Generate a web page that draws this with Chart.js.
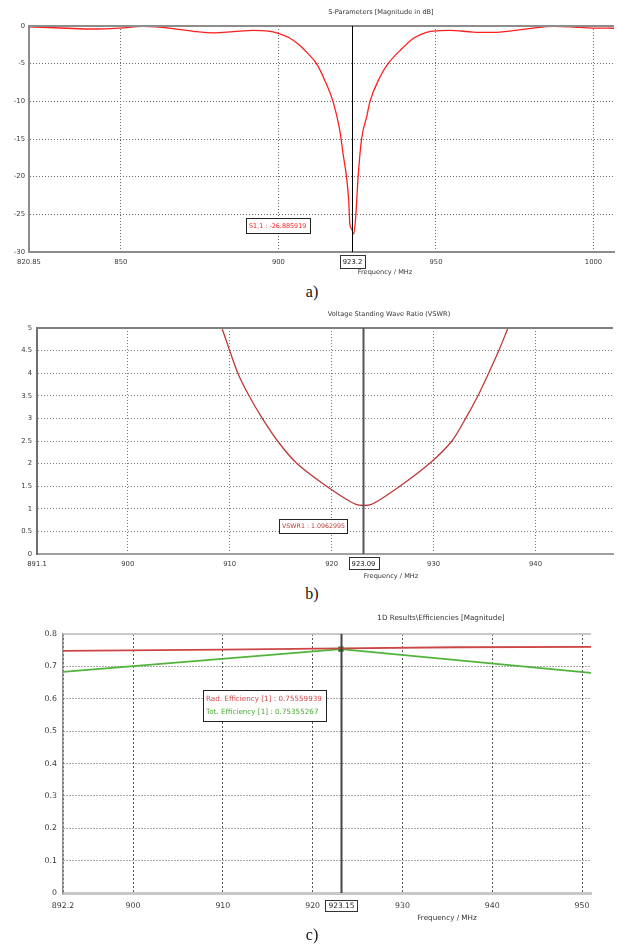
<!DOCTYPE html>
<html>
<head>
<meta charset="utf-8">
<script src="https://cdn.jsdelivr.net/npm/chart.js@4.4.0/dist/chart.umd.min.js"></script>
<style>
    body { margin: 0; background: #fff; width: 617px; height: 946px; position: relative; overflow: hidden; }
    canvas { position: absolute; left: 0; }
    .caption { position: absolute; width: 40px; text-align: center; font-family: "Liberation Serif", serif; font-size: 16px; color: #111; }
</style>
</head>
<body>
<canvas id="s11Chart" width="617" height="280" style="top:0px"></canvas>
<div class="caption" style="left:292px; top:283px">a)</div>
<canvas id="vswrChart" width="617" height="282" style="top:300px"></canvas>
<div class="caption" style="left:292px; top:585px">b)</div>
<canvas id="effChart" width="617" height="330" style="top:600px"></canvas>
<div class="caption" style="left:292px; top:926px">c)</div>

<script>
// a) S1,1 in dB
const s11Freq = [820.85, 832.8, 841.2, 849.7, 857, 861.3, 866.5, 873, 879.3, 885.6, 892, 896.2, 900, 903.6, 906.8, 909,
    912.1, 914.7, 917.4, 919.5, 920.5, 921.6, 922.3, 922.7, 923.2, 923.9, 924.6, 925.3, 926.4, 928.1, 929, 932.2, 934.8,
    938.5, 943, 947, 951.2, 954.4, 961.8, 968.1, 974.5, 980.8, 987.1, 992.4, 999.8, 1006.5];
const s11Db = [-0.1, -0.3, -0.4, -0.27, -0.05, -0.1, -0.35, -0.7, -0.9, -0.75, -0.57, -0.66, -0.97, -1.6, -2.6, -3.5,
    -5, -7.2, -10.1, -13.9, -16.9, -20, -23.1, -26.4, -26.89, -27.6, -24.9, -20, -15, -11.9, -10.1, -6.8, -5,
    -3.3, -1.6, -0.84, -0.62, -0.58, -0.8, -0.84, -0.62, -0.27, -0.05, -0.1, -0.27, -0.3];
const s11XTicks = [820.85, 850, 900, 950, 1000];
const s11XLabels = ['820.85', '850', '900', '950', '1000'];
const s11YTicks = [-30, -25, -20, -15, -10, -5, 0];
const s11YLabels = ['-30', '-25', '-20', '-15', '-10', '-5', '0'];
const s11Marker = 923.2;

// b) VSWR
const vswrFreq = [909.24, 910.0, 910.8, 911.9, 913.2, 914.7, 916.6, 919.5, 922.4, 923.9, 926.7, 929.6, 931.8, 933.15,
    934.35, 935.4, 936.4, 937.3];
const vswrVal = [5, 4.5, 4, 3.5, 3, 2.5, 2, 1.5, 1.096, 1.096, 1.5, 2, 2.5, 3, 3.5, 4, 4.5, 5];
const vswrXTicks = [891.1, 900, 910, 920, 930, 940];
const vswrXLabels = ['891.1', '900', '910', '920', '930', '940'];
const vswrYTicks = [0, 0.5, 1, 1.5, 2, 2.5, 3, 3.5, 4, 4.5, 5];
const vswrYLabels = ['0', '0.5', '1', '1.5', '2', '2.5', '3', '3.5', '4', '4.5', '5'];
const vswrMarker = 923.09;

// c) efficiencies
const radFreq = [892.2, 910, 923.15, 936, 951];
const radEff = [0.748, 0.752, 0.7556, 0.759, 0.760];
const totFreq = [892.2, 923.15, 951];
const totEff = [0.683, 0.7535, 0.680];
const effXTicks = [892.2, 900, 910, 920, 930, 940, 950];
const effXLabels = ['892.2', '900', '910', '920', '930', '940', '950'];
const effYTicks = [0, 0.1, 0.2, 0.3, 0.4, 0.5, 0.6, 0.7, 0.8];
const effYLabels = ['0', '0.1', '0.2', '0.3', '0.4', '0.5', '0.6', '0.7', '0.8'];
const effMarker = 923.15;

const uiFont = "'DejaVu Sans', sans-serif";

// frame top line, marker line + its box, result box, titles
const cstDecor = {
    id: 'cstDecor',
    afterDraw(chart, args, o) {
        const ctx = chart.ctx;
        const area = chart.chartArea;
        const x = chart.scales.x;
        ctx.save();
        ctx.strokeStyle = o.frameColor;
        ctx.lineWidth = o.frameWidth;
        ctx.beginPath();
        ctx.moveTo(area.left, area.top);
        ctx.lineTo(area.right, area.top);
        ctx.stroke();

        let mx = Math.round(x.getPixelForValue(o.marker)) + 0.5;
        ctx.strokeStyle = o.markerColor;
        ctx.lineWidth = o.markerWidth;
        ctx.beginPath();
        ctx.moveTo(mx, area.top);
        ctx.lineTo(mx, area.bottom);
        ctx.stroke();

        // marker value under the axis
        ctx.font = o.boxFont;
        let label = String(o.marker);
        let w = ctx.measureText(label).width + 6;
        ctx.fillStyle = '#fff';
        ctx.fillRect(mx - w / 2, o.markerBoxY, w, o.markerBoxH);
        ctx.strokeStyle = '#333';
        ctx.lineWidth = 1;
        ctx.strokeRect(Math.round(mx - w / 2) + 0.5, o.markerBoxY + 0.5, Math.round(w), o.markerBoxH);
        ctx.fillStyle = '#222';
        ctx.textAlign = 'center';
        ctx.textBaseline = 'middle';
        ctx.fillText(label, mx, o.markerBoxY + o.markerBoxH / 2 + 1);

        // result box
        let n = o.note;
        ctx.fillStyle = '#fff';
        ctx.fillRect(n.x, n.y, n.w, n.h);
        ctx.strokeStyle = '#222';
        ctx.strokeRect(n.x + 0.5, n.y + 0.5, n.w, n.h);
        ctx.font = n.font;
        ctx.textAlign = 'left';
        n.lines.forEach((line, i) => {
            ctx.fillStyle = line.color;
            ctx.fillText(line.text, n.x + 3, n.y + n.lineY[i]);
        });

        ctx.font = o.titleFont;
        ctx.fillStyle = '#333';
        ctx.textAlign = 'center';
        ctx.fillText(o.title, o.titleX, o.titleY);
        ctx.fillText('Frequency / MHz', o.xTitleX, o.xTitleY);
        ctx.restore();
    }
};

function xyData(freq, values) {
    return freq.map((f, i) => ({ x: f, y: values[i] }));
}

function baseScales(c) {
    return {
        x: {
            type: 'linear',
            min: c.xMin,
            max: c.xMax,
            afterBuildTicks: s => { s.ticks = c.xTicks.map(v => ({ value: v })); },
            afterFit: s => { s.height = c.xHeight; },
            ticks: {
                autoSkip: false,
                maxRotation: 0,
                padding: c.xPad,
                color: '#3a3a3a',
                font: { family: uiFont, size: c.tickSize },
                callback: (v, i) => c.xLabels[i]
            },
            grid: { color: c.gridColor, lineWidth: 1, drawTicks: false },
            border: { color: c.xBorder, width: c.xBorderWidth, dash: c.vDash }
        },
        y: {
            min: c.yMin,
            max: c.yMax,
            afterBuildTicks: s => { s.ticks = c.yTicks.map(v => ({ value: v })); },
            afterFit: s => { s.width = c.yWidth; },
            ticks: {
                padding: c.yPad,
                color: '#3a3a3a',
                font: { family: uiFont, size: c.tickSize },
                callback: (v, i) => c.yLabels[i]
            },
            grid: { color: c.gridColor, lineWidth: 1, drawTicks: false },
            border: { color: c.yBorder, width: c.yBorderWidth, dash: [1, 2] }
        }
    };
}

function createSParamChart() {
    new Chart('s11Chart', {
        type: 'line',
        data: {
            datasets: [{
                data: xyData(s11Freq, s11Db),
                borderColor: 'rgb(255, 30, 30)',
                borderWidth: 1.3,
                pointRadius: 0,
                cubicInterpolationMode: 'monotone'
            }]
        },
        options: {
            responsive: false,
            animation: false,
            events: [],
            layout: { padding: { top: 26, right: 3, left: 0, bottom: 0 } },
            scales: baseScales({
                xMin: 820.85, xMax: 1006.5, xTicks: s11XTicks, xLabels: s11XLabels, xHeight: 28, xPad: 6,
                yMin: -30, yMax: 0, yTicks: s11YTicks, yLabels: s11YLabels, yWidth: 29, yPad: 4,
                tickSize: 6.8, gridColor: 'rgba(90, 90, 90, 0.9)', vDash: [1, 2],
                xBorder: '#8c8c8c', xBorderWidth: 2, yBorder: '#8c8c8c', yBorderWidth: 2
            }),
            plugins: {
                legend: { display: false },
                tooltip: { enabled: false },
                cstDecor: {
                    frameColor: '#8c8c8c', frameWidth: 2,
                    marker: s11Marker, markerColor: '#000', markerWidth: 1,
                    markerBoxY: 255, markerBoxH: 13, boxFont: '6.8px ' + uiFont,
                    note: {
                        x: 246, y: 218, w: 64, h: 15, font: '6.4px ' + uiFont, lineY: [8],
                        lines: [{ text: 'S1,1 : -26.885919', color: 'rgb(255, 30, 30)' }]
                    },
                    title: 'S-Parameters [Magnitude in dB]', titleX: 381, titleY: 12, titleFont: '6.6px ' + uiFont,
                    xTitleX: 385, xTitleY: 272
                }
            }
        },
        plugins: [cstDecor]
    });
}

function createVswrChart() {
    new Chart('vswrChart', {
        type: 'line',
        data: {
            datasets: [{
                data: xyData(vswrFreq, vswrVal),
                borderColor: 'rgb(190, 55, 55)',
                borderWidth: 1.3,
                pointRadius: 0,
                tension: 0.25
            }]
        },
        options: {
            responsive: false,
            animation: false,
            events: [],
            layout: { padding: { top: 28, right: 4, left: 0, bottom: 0 } },
            scales: baseScales({
                xMin: 891.1, xMax: 947.6, xTicks: vswrXTicks, xLabels: vswrXLabels, xHeight: 28, xPad: 6,
                yMin: 0, yMax: 5, yTicks: vswrYTicks, yLabels: vswrYLabels, yWidth: 37, yPad: 5,
                tickSize: 6.8, gridColor: 'rgba(110, 110, 110, 0.9)', vDash: [1, 2],
                xBorder: '#a0a0a0', xBorderWidth: 2, yBorder: '#707070', yBorderWidth: 2
            }),
            plugins: {
                legend: { display: false },
                tooltip: { enabled: false },
                cstDecor: {
                    frameColor: '#808080', frameWidth: 2,
                    marker: vswrMarker, markerColor: '#555', markerWidth: 2,
                    markerBoxY: 257, markerBoxH: 12, boxFont: '6.8px ' + uiFont,
                    note: {
                        x: 279, y: 219, w: 68, h: 14, font: '6.3px ' + uiFont, lineY: [7.5],
                        lines: [{ text: 'VSWR1 : 1.0962995', color: 'rgb(190, 55, 55)' }]
                    },
                    title: 'Voltage Standing Wave Ratio (VSWR)', titleX: 389, titleY: 14, titleFont: '6.6px ' + uiFont,
                    xTitleX: 391, xTitleY: 276
                }
            }
        },
        plugins: [cstDecor]
    });
}

function createEfficiencyChart() {
    let mi = totFreq.indexOf(effMarker);
    new Chart('effChart', {
        type: 'line',
        data: {
            datasets: [{
                data: xyData(radFreq, radEff),
                borderColor: 'rgb(205, 70, 70)',
                borderWidth: 1.8,
                pointRadius: 0,
                tension: 0
            }, {
                data: xyData(totFreq, totEff),
                borderColor: 'rgb(80, 180, 60)',
                borderWidth: 1.8,
                tension: 0,
                pointStyle: 'rect',
                pointRadius: ctx => ctx.dataIndex === mi ? 2.5 : 0,
                pointBackgroundColor: 'rgb(30, 120, 30)',
                pointBorderColor: 'rgb(30, 120, 30)'
            }]
        },
        options: {
            responsive: false,
            animation: false,
            events: [],
            layout: { padding: { top: 34, right: 26, left: 0, bottom: 0 } },
            scales: baseScales({
                xMin: 892.2, xMax: 951, xTicks: effXTicks, xLabels: effXLabels, xHeight: 37, xPad: 8,
                yMin: 0, yMax: 0.8, yTicks: effYTicks, yLabels: effYLabels, yWidth: 63, yPad: 6,
                tickSize: 7.8, gridColor: 'rgba(70, 70, 70, 0.9)', vDash: [2, 2],
                xBorder: '#c8c8c8', xBorderWidth: 3, yBorder: '#909090', yBorderWidth: 1.5
            }),
            plugins: {
                legend: { display: false },
                tooltip: { enabled: false },
                cstDecor: {
                    frameColor: '#c8c8c8', frameWidth: 2,
                    marker: effMarker, markerColor: '#444', markerWidth: 2,
                    markerBoxY: 300, markerBoxH: 11, boxFont: '7.5px ' + uiFont,
                    note: {
                        x: 203, y: 90, w: 123, h: 31, font: '7.2px ' + uiFont, lineY: [9, 22],
                        lines: [
                            { text: 'Rad. Efficiency [1] : 0.75559939', color: 'rgb(205, 70, 70)' },
                            { text: 'Tot. Efficiency [1] : 0.75355267', color: 'rgb(70, 170, 50)' }
                        ]
                    },
                    title: '1D Results\\Efficiencies [Magnitude]', titleX: 441, titleY: 18, titleFont: '7.2px ' + uiFont,
                    xTitleX: 447, xTitleY: 318
                }
            }
        },
        plugins: [cstDecor]
    });
}

createSParamChart();
createVswrChart();
createEfficiencyChart();
</script>
</body>
</html>
